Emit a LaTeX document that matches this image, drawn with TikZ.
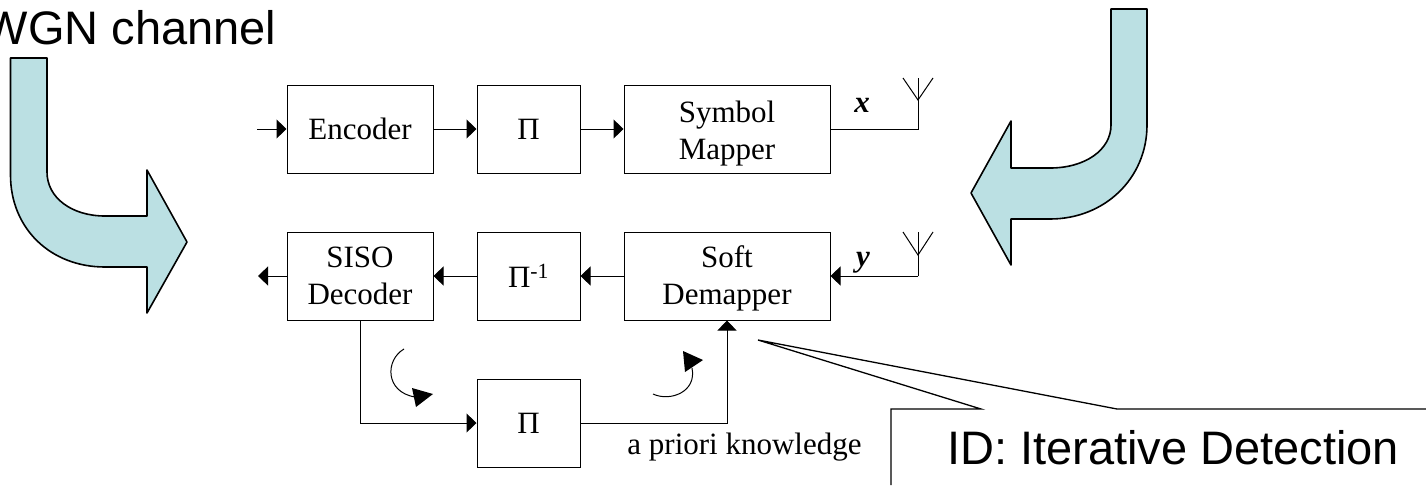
\documentclass[tikz,border=0pt]{standalone}
\usepackage{fontspec}
\setmainfont{Liberation Serif}
\newfontfamily\arialfont{Liberation Sans}
\usetikzlibrary{arrows.meta,positioning}
\definecolor{bendfill}{HTML}{BBE0E3}
\newcommand{\liftline}[1]{\rule{0pt}{#1}}
\tikzset{
	sig/.style={-{Triangle[length=10pt,width=19pt]}},
	box/.style={draw,rectangle,align=center,minimum height=88pt,inner sep=0pt,font=\fontsize{31}{37}\selectfont},
	widebox/.style={box,minimum width=146pt},
	midbox/.style={box,minimum width=103pt},
	largebox/.style={box,minimum width=206pt},
	bendarrow/.style={draw,fill=bendfill,line width=1.6pt,line join=round},
	head/.style={fill=black},
	lab/.style={inner sep=0pt,font=\fontsize{31}{37}\selectfont},
	biglab/.style={inner sep=0pt,font=\arialfont\fontsize{47}{52}\selectfont}
}
\begin{document}
\begin{tikzpicture}[x=1pt,y=-1pt,line width=1pt]
			\useasboundingbox (0,0) rectangle (1426,485);
			\node[biglab,anchor=east] (awgn) at (277,28) {AWGN channel};
			\draw[bendarrow] (10.5,58) -- (47,58) -- (47,172) .. controls (47,198) and (72,216) .. (105,216) -- (147,216) -- (147,170) -- (187,242) -- (147,313) -- (147,267) -- (105,267) .. controls (50,267) and (10.5,228) .. (10.5,175) -- cycle;
			\draw[bendarrow] (1147,9) -- (1111,9) -- (1111,125) .. controls (1111,150) and (1085,168) .. (1050,168) -- (1011,168) -- (1011,121) -- (971,193) -- (1011,265) -- (1011,219) -- (1050,219) .. controls (1105,219) and (1147,178) .. (1147,125) -- cycle;
			\node[coordinate] (in) at (257,129) {};
			\node[widebox] (enc) at (360,129) {Encoder};
			\node[midbox] (pit) at (528.5,129) {Π};
			\node[largebox] (map) at (727,129) {\liftline{31pt}Symbol\\Mapper};
			\node[coordinate] (antx) at (918,129) {};
			\node[coordinate] (antxt) at (918,78) {};
			\node[coordinate] (antxm) at (918,100) {};
			\node[coordinate] (antxl) at (903,78) {};
			\node[coordinate] (antxr) at (933,78) {};
			\node[lab] (lx) at (862,105) {\textbf{\textit{x}}};
			\draw[sig] (in) -- (enc);
			\draw[sig] (enc) -- (pit);
			\draw[sig] (pit) -- (map);
			\draw (map) -- (antx) -- (antxt);
			\draw (antxl) -- (antxm) -- (antxr);
			\node[coordinate] (out) at (258,276) {};
			\node[widebox] (dec) at (360,276) {SISO\\Decoder};
			\node[midbox] (pii) at (528.5,276) {Π\textsuperscript{-1}};
			\node[largebox] (dem) at (727,276) {\liftline{27pt}Soft\\Demapper};
			\node[coordinate] (any) at (918,276) {};
			\node[coordinate] (anyt) at (918,232) {};
			\node[coordinate] (anym) at (918,255) {};
			\node[coordinate] (anyl) at (903,232) {};
			\node[coordinate] (anyr) at (933,232) {};
			\node[lab] (ly) at (863,263) {\textbf{\textit{y}}};
			\draw[sig] (any) -- (dem);
			\draw (any) -- (anyt);
			\draw (anyl) -- (anym) -- (anyr);
			\draw[sig] (dem) -- (pii);
			\draw[sig] (pii) -- (dec);
			\draw[sig] (dec) -- (out);
			\node[midbox] (pib) at (528.5,423) {Π};
			\draw[sig] (dec) |- (pib);
			\draw[sig] (pib) -| (dem);
			\node[lab] (prior) at (744.5,447) {a priori knowledge};
			\draw (404,349) .. controls (385,360) and (385,392) .. (415,397);
			\fill[head] (433,394) -- (412,388) -- (416,407) -- cycle;
			\draw (653,394) .. controls (670,402) and (697,392) .. (692,368);
			\fill[head] (703,360) -- (683,351) -- (685,372) -- cycle;
			\node[coordinate] (cs) at (891,485) {};
			\node[coordinate] (cl) at (891,409) {};
			\node[coordinate] (ca) at (981,409) {};
			\node[coordinate] (ctip) at (758,340) {};
			\node[coordinate] (cb) at (1117,409) {};
			\node[coordinate] (ce) at (1426,409) {};
			\draw[line width=1.3pt] (cs) -- (cl) -- (ca) -- (ctip) -- (cb) -- (ce);
			\node[biglab] (idet) at (1173,448) {ID: Iterative Detection};
		\end{tikzpicture}
\end{document}
